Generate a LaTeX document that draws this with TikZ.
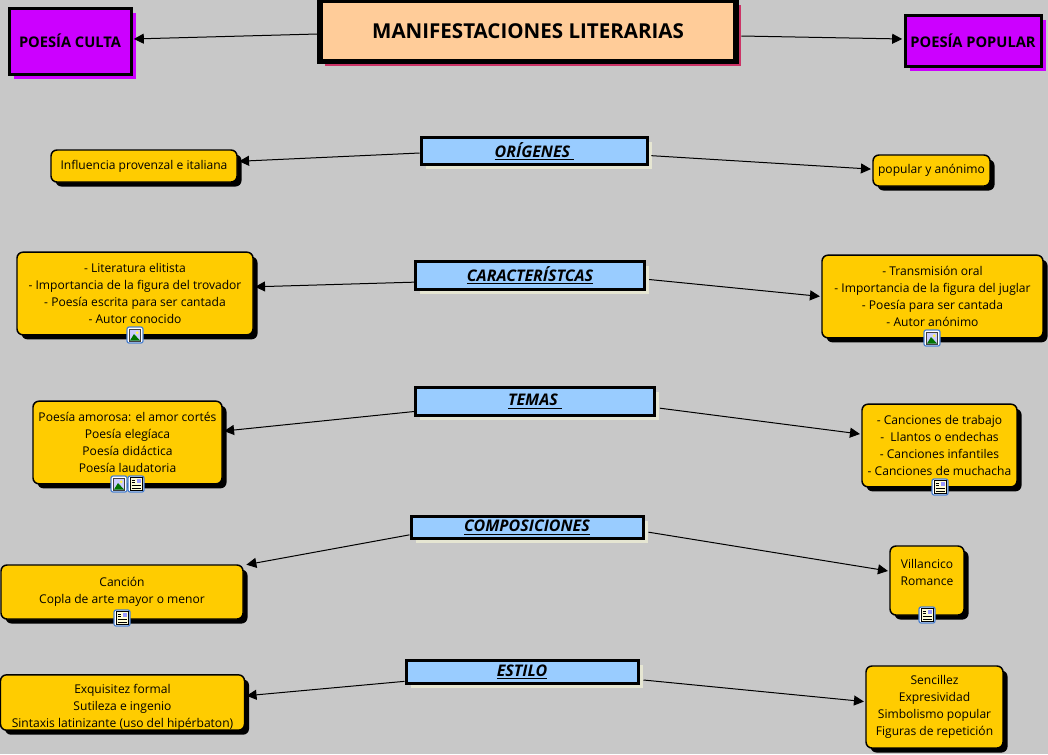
\documentclass[tikz,border=0pt]{standalone}
\usepackage{fontspec}
\setmainfont{Open Sans}
\usetikzlibrary{shadows,arrows.meta}
\definecolor{fondo}{HTML}{C8C8C8}
\definecolor{lila}{HTML}{CC00FF}
\definecolor{melocoton}{HTML}{FFCC99}
\definecolor{celeste}{HTML}{99CCFF}
\definecolor{oro}{HTML}{FFCC00}
\definecolor{beige}{HTML}{E6E6D2}
\definecolor{grana}{HTML}{CC3366}
\definecolor{iconazul}{HTML}{4A80D0}
\tikzset{
  titulo/.style={draw=black,line width=4pt,fill=melocoton,inner sep=0pt,
    font=\fontsize{15.4}{18}\selectfont\bfseries,
    drop shadow={shadow xshift=3.5pt,shadow yshift=-3.5pt,fill=grana,opacity=1}},
  rama/.style={draw=black,line width=2.25pt,fill=lila,inner sep=0pt,
    font=\fontsize{11}{13}\selectfont\bfseries,
    drop shadow={shadow xshift=3.6pt,shadow yshift=-3.6pt,fill=lila,opacity=1}},
  apartado/.style={draw=black,line width=2.25pt,fill=celeste,inner sep=0pt,
    font=\fontsize{12}{14}\selectfont\bfseries\itshape,
    drop shadow={shadow xshift=3.4pt,shadow yshift=-3.4pt,fill=beige,opacity=1}},
  cuadro/.style={draw=black,line width=1.1pt,fill=oro,rounded corners=4.5pt,inner sep=0pt,
    align=center,font=\fontsize{9.05}{12.75}\selectfont,
    drop shadow={shadow xshift=3.4pt,shadow yshift=-3.4pt,fill=black,opacity=1}},
  enlace/.style={draw=black,line width=0.75pt,-{Triangle[length=7.5pt,width=7.5pt]},shorten >=1pt},
  marco/.style={draw=iconazul,line width=0.9pt,fill=white,rounded corners=1.5pt},
  pics/iconimagen/.style={code={
    \draw[marco] (-8,-8) rectangle (8,8);
    \fill[black!75] (-6,-6) rectangle (6,6.5);
    \fill[blue!20] (-5,-5) rectangle (5,5.5);
    \fill[green!45!black] (-5,5.5) -- (-1,-1) -- (5,5.5) -- cycle;
    \fill[yellow!70] (2.2,-2.2) circle (1.6);
  }},
  pics/iconnota/.style={code={
    \draw[marco] (-8,-8) rectangle (8,8);
    \fill[yellow!15] (-6,-6.5) rectangle (6,6.5);
    \draw[black,line width=0.6pt] (-6,-6.5) rectangle (6,6.5);
    \fill[blue!40] (0.5,-5.5) rectangle (5,-1);
    \draw[black,line width=0.6pt] (-4.5,-4) -- (-1,-4) (-4.5,-1.5) -- (-1,-1.5) (-4.5,1.5) -- (4.5,1.5) (-4.5,4) -- (4.5,4);
  }},
}
\begin{document}
\begin{tikzpicture}[x=0.75pt,y=-0.75pt]
  \fill[fondo] (0,0) rectangle (1048,754);
  \useasboundingbox (0,0) rectangle (1048,754);
  % cabecera
  \node[titulo,minimum width=312pt,minimum height=45.5pt] (manifest) at (528,31) {MANIFESTACIONES LITERARIAS};
  \node[rama,minimum width=91.5pt,minimum height=49.5pt] (culta) at (70,41) {POESÍA CULTA};
  \node[rama,minimum width=102pt,minimum height=38pt] (popular) at (973,41) {POESÍA POPULAR};
  % apartados
  \node[apartado,minimum width=170pt,minimum height=20.5pt] (origenes) at (534.5,151) {\underline{ORÍGENES\ }};
  \node[apartado,minimum width=172pt,minimum height=20.5pt] (caract) at (530,275.5) {\underline{CARACTERÍSTCAS}};
  \node[apartado,minimum width=179pt,minimum height=20.5pt] (temas) at (535,401.5) {\underline{TEMAS\ }};
  \node[apartado,minimum width=174pt,minimum height=17pt] (compos) at (527,527.5) {\underline{COMPOSICIONES}};
  \node[apartado,minimum width=174pt,minimum height=17pt] (estilo) at (522,672) {\underline{ESTILO}};
  % poesia culta
  \node[cuadro,minimum width=139.5pt,minimum height=24pt] (culta1) at (144,166) {Influencia provenzal e italiana};
  \node[cuadro,minimum width=177pt,minimum height=62pt] (culta2) at (135,293.5) {- Literatura elitista\\- Importancia de la figura del trovador\\- Poesía escrita para ser cantada\\- Autor conocido};
  \node[cuadro,minimum width=141.75pt,minimum height=62pt] (culta3) at (127.5,442.5) {Poesía amorosa: el amor cortés\\Poesía elegíaca\\Poesía didáctica\\Poesía laudatoria};
  \node[cuadro,minimum width=181.5pt,minimum height=40.5pt] (culta4) at (122,592) {Canción\\Copla de arte mayor o menor};
  \node[cuadro,minimum width=183pt,minimum height=41.5pt] (culta5) at (122.5,702.5) {\rule{0pt}{13.5pt}Exquisitez formal\\Sutileza e ingenio\\Sintaxis latinizante (uso del hipérbaton)};
  % poesia popular
  \node[cuadro,minimum width=87.75pt,minimum height=23.25pt] (pop1) at (931.5,170.5) {popular y anónimo};
  \node[cuadro,minimum width=165.75pt,minimum height=62pt] (pop2) at (932.5,296.5) {- Transmisión oral\\- Importancia de la figura del juglar\\- Poesía para ser cantada\\- Autor anónimo};
  \node[cuadro,minimum width=116.25pt,minimum height=62pt] (pop3) at (939.5,445.5) {- Canciones de trabajo\\-\ \ Llantos o endechas\\- Canciones infantiles\\- Canciones de muchacha};
  \node[cuadro,minimum width=55.5pt,minimum height=51.75pt] (pop4) at (927,580.5) {Villancico\\Romance\\~};
  \node[cuadro,minimum width=102.75pt,minimum height=61.5pt] (pop5) at (934.5,707) {Sencillez\\Expresividad\\Simbolismo popular\\Figuras de repetición};
  % iconos
  \pic at (135,335) {iconimagen};
  \pic at (932,338) {iconimagen};
  \pic at (119,484) {iconimagen};
  \pic at (136,484) {iconnota};
  \pic at (940,487) {iconnota};
  \pic at (122,618) {iconnota};
  \pic at (927,615) {iconnota};
  % enlaces
  \draw[enlace] ([yshift=-2.25pt]manifest.west) -- ([yshift=1.5pt]culta.east);
  \draw[enlace] ([xshift=2pt,yshift=-3.75pt]manifest.east) -- ([yshift=1.5pt]popular.west);
  \draw[enlace] ([yshift=-1.5pt]origenes.west) -- ([yshift=3.5pt]culta1.east);
  \draw[enlace] ([xshift=1.5pt,yshift=-3.5pt]origenes.east) -- ([yshift=1pt]pop1.west);
  \draw[enlace] ([yshift=-5pt]caract.west) -- ([yshift=5pt]culta2.east);
  \draw[enlace] ([xshift=2.25pt,yshift=-3pt]caract.east) -- (pop2.west);
  \draw[enlace] ([yshift=-7.5pt]temas.west) -- ([yshift=8.5pt]culta3.east);
  \draw[enlace] ([xshift=3pt,yshift=-5pt]temas.east) -- ([yshift=8.5pt]pop3.west);
  \draw[enlace] ([yshift=-5.5pt]compos.west) -- ([xshift=1pt,yshift=-0.5pt]culta4.north east);
  \draw[enlace] ([xshift=3pt,yshift=-3.5pt]compos.east) -- ([yshift=7pt]pop4.west);
  \draw[enlace] ([yshift=-7pt]estilo.west) -- ([yshift=5pt]culta5.east);
  \draw[enlace] ([xshift=3pt,yshift=-6pt]estilo.east) -- ([yshift=4pt]pop5.west);
\end{tikzpicture}
\end{document}
